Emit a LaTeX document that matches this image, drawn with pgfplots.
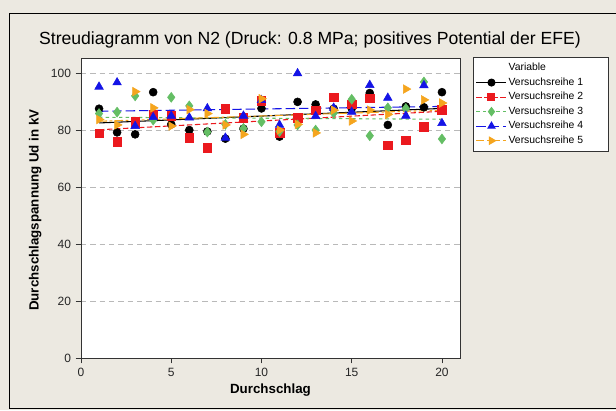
\documentclass[border=0pt]{standalone}
\usepackage{pgfplots}
\pgfplotsset{compat=1.18}
\usepackage{fontspec}
\setmainfont{Liberation Sans}

\definecolor{mtbg}{RGB}{236,233,225}
\definecolor{mtred}{RGB}{235,25,30}
\definecolor{mtgreen}{RGB}{100,190,100}
\definecolor{mtblue}{RGB}{20,20,230}
\definecolor{mtorange}{RGB}{245,165,30}

% x = Durchschlag, y = Ud in kV
\pgfplotstableread{
x   r1    r2    r3    r4    r5
1   87.5  78.8  85.8  95.2  83.7
2   79.2  75.9  86.3  96.7  81.8
3   78.5  82.9  92.0  81.4  93.5
4   93.3  85.3  83.5  84.5  87.8
5   82.0  85.0  91.5  85.0  81.4
6   80.0  77.3  88.5  84.4  87.2
7   79.5  73.8  79.3  87.6  85.8
8   77.0  87.4  82.0  77.3  81.8
9   80.5  84.3  80.6  85.0  78.5
10  87.6  90.2  82.9  90.5  91.0
11  77.7  79.0  79.5  81.8  80.0
12  89.9  84.3  81.8  99.9  82.0
13  89.0  87.0  80.0  84.9  79.0
14  87.5  91.5  86.0  87.8  87.0
15  87.6  89.0  90.8  86.4  83.2
16  93.0  91.1  78.0  95.8  87.0
17  81.8  74.7  87.8  91.3  85.5
18  88.3  76.4  87.6  85.0  94.4
19  88.0  81.2  96.9  95.7  90.6
20  93.3  87.2  76.9  82.4  89.5
}\datatable

\begin{document}
\begin{tikzpicture}
\path[use as bounding box] (0,0) rectangle (462pt,307.5pt);
\fill[mtbg] (0,0) rectangle (462pt,307.5pt);
\draw[black, line width=0.9pt] (7.1pt,1.3pt) rectangle (470pt,297.4pt);
\begin{axis}[
    at={(60.75pt,39pt)}, anchor=south west,
    scale only axis,
    width=284.25pt, height=225pt,
    xmin=0, xmax=21, ymin=0, ymax=105.3,
    xtick={0,5,10,15,20}, ytick={0,20,40,60,80,100},
    xtick pos=bottom, ytick pos=left,
    tick align=outside, major tick length=4pt,
    tick style={black!80, line width=0.6pt},
    axis line style={black!80, line width=0.6pt},
    axis background/.style={fill=white},
    ymajorgrids,
    grid style={gray!55, line width=0.6pt, dash pattern=on 4pt off 3pt},
    /pgf/number format/assume math mode=true,
    tick label style={font=\fontsize{9}{10}\selectfont, black!85},
    title={Streudiagramm von N2 (Druck: 0.8 MPa; positives Potential der EFE)},
    title style={at={(axis description cs:0.604,1.034)}, anchor=center, yshift=0pt, font=\fontsize{13.2}{15}\selectfont},
    xlabel={Durchschlag},
    xlabel style={at={(axis description cs:0.5,-0.107)}, anchor=center, font=\fontsize{10}{12}\selectfont\bfseries},
    ylabel={Durchschlagspannung Ud in kV},
    ylabel style={at={(axis description cs:-0.121,0.493)}, anchor=center, rotate=0, font=\fontsize{10}{12}\selectfont\bfseries},
    legend style={at={(axis description cs:1.034,1.003)}, anchor=north west,
        draw=black!80, line width=0.6pt, fill=white,
        font=\fontsize{7.8}{9}\selectfont,
        inner xsep=2pt, inner ysep=2.8pt, row sep=0.7pt,
        nodes={inner sep=1.2pt, text height=6pt, text depth=1.8pt}},
    legend cell align=left,
    legend image code/.code={\draw[mark repeat=2,mark phase=2,#1] plot coordinates {(0pt,0pt) (11.25pt,0pt) (22.5pt,0pt)};},
]
% trend lines
\addplot[forget plot, black, line width=0.8pt] coordinates {(1,82.5) (20,87.6)};
\addplot[forget plot, mtred, line width=0.8pt, dash pattern=on 4pt off 2pt] coordinates {(1,80.1) (20,86.6)};
\addplot[forget plot, mtgreen, line width=0.8pt, dash pattern=on 2.5pt off 2.5pt] coordinates {(1,84.5) (20,83.8)};
\addplot[forget plot, mtblue, line width=0.8pt, dash pattern=on 7pt off 3pt] coordinates {(1,86.6) (20,88.3)};
\addplot[forget plot, mtorange, line width=0.8pt, dash pattern=on 6pt off 2pt on 2pt off 2pt] coordinates {(1,83.1) (20,87.0)};
% points
\addplot[forget plot, only marks, mark=*, mark size=3pt, black] table[x=x, y=r1] {\datatable};
\addplot[forget plot, only marks, mark=square*, mark size=3.2pt, mtred] table[x=x, y=r2] {\datatable};
\addplot[forget plot, only marks, mark=diamond*, mark size=3.7pt, mtgreen] table[x=x, y=r3] {\datatable};
\addplot[forget plot, only marks, mark=triangle*, mark size=3.7pt, mtblue] table[x=x, y=r4] {\datatable};
\addplot[forget plot, only marks, mark=triangle*, mark size=3.7pt, mark options={rotate=-90}, mtorange] table[x=x, y=r5] {\datatable};
% legend
\addlegendimage{empty legend}
\addlegendentry{\makebox[72pt][l]{Variable}}
\addlegendimage{black, line width=0.8pt, mark=*, mark size=2.6pt}
\addlegendentry{Versuchsreihe 1}
\addlegendimage{mtred, line width=0.8pt, dash pattern=on 4pt off 2pt, mark=square*, mark size=2.6pt, mark options={solid}}
\addlegendentry{Versuchsreihe 2}
\addlegendimage{mtgreen, line width=0.8pt, dash pattern=on 2.5pt off 2.5pt, mark=diamond*, mark size=3pt, mark options={solid}}
\addlegendentry{Versuchsreihe 3}
\addlegendimage{mtblue, line width=0.8pt, dash pattern=on 7pt off 3pt, mark=triangle*, mark size=3pt, mark options={solid}}
\addlegendentry{Versuchsreihe 4}
\addlegendimage{mtorange, line width=0.8pt, dash pattern=on 6pt off 2pt on 2pt off 2pt, mark=triangle*, mark size=3pt, mark options={solid, rotate=-90}}
\addlegendentry{Versuchsreihe 5}
\end{axis}
\end{tikzpicture}
\end{document}
